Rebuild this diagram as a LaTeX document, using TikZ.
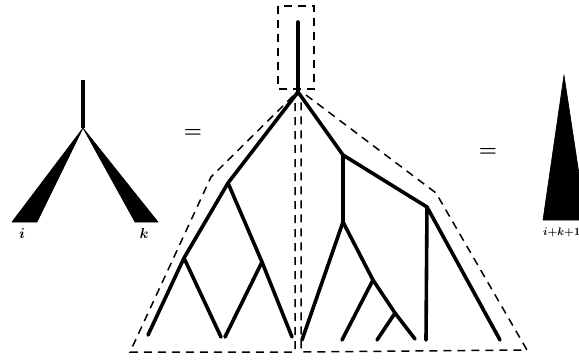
\documentclass[tikz,border=0pt]{standalone}
\begin{document}
\begin{tikzpicture}[x=1pt,y=-1pt,
  branch/.style={line width=3.6pt,line cap=round,line join=round},
  outline/.style={line width=1.5pt,dash pattern=on 8pt off 6pt},
  wedge/.style={fill=black,draw=black,line width=0.6pt,line join=round},
  lbl/.style={font=\fontsize{15}{15}\selectfont\boldmath,inner sep=0pt},
  eqsign/.style={font=\fontsize{20}{20}\selectfont\boldmath,inner sep=0pt}]
\useasboundingbox (0,0) rectangle (579,360);
\clip (0,0) rectangle (579,360);
% ---- left tree ----
\coordinate (ltop) at (83,80);
\coordinate (lroot) at (83,128);
\draw[line width=3.4pt] (ltop) -- (lroot);
\fill[wedge] (lroot) -- (12,222) -- (37,222) -- cycle;
\fill[wedge] (lroot) -- (135,222) -- (158,222) -- cycle;
\node[lbl] (li) at (22,234) {$i$};
\node[lbl] (lk) at (144,233) {$k$};
\node[eqsign] (eq1) at (193,133) {$=$};
% ---- middle tree ----
\coordinate (top) at (298,22);
\coordinate (R) at (298,92);
\coordinate (L1) at (228,183);
\coordinate (L2) at (184,258);
\coordinate (L3) at (148,335);
\coordinate (La) at (221,337);
\coordinate (L4) at (262,262);
\coordinate (Lb) at (225,337);
\coordinate (Lc) at (292,337);
\coordinate (N1) at (343,155);
\coordinate (N2) at (427,207);
\coordinate (Nleaf) at (500,340);
\coordinate (N3) at (343,222);
\coordinate (Na) at (302,340);
\coordinate (N4) at (373,280);
\coordinate (N5) at (395,313);
\coordinate (Nb) at (415,339);
\coordinate (Nc) at (342,340);
\coordinate (Nd) at (377,340);
\coordinate (Ne) at (426,340);
\draw[branch] (top) -- (R);
\draw[branch] (R) -- (L1) -- (L2) -- (L3);
\draw[branch] (L2) -- (La);
\draw[branch] (L1) -- (L4) -- (Lc);
\draw[branch] (L4) -- (Lb);
\draw[branch] (R) -- (N1) -- (N2) -- (Nleaf);
\draw[branch] (N1) -- (N3) -- (Na);
\draw[branch] (N3) -- (N4) -- (N5) -- (Nb);
\draw[branch] (N4) -- (Nc);
\draw[branch] (N5) -- (Nd);
\draw[branch] (N2) -- (Ne);
% dashed outlines
\coordinate (bx1) at (278,6);
\coordinate (bx2) at (314,89);
\draw[outline] (bx1) rectangle (bx2);
\coordinate (o1) at (293,96);
\coordinate (o2) at (211,177);
\coordinate (o3) at (130,352);
\coordinate (o4) at (295,352);
\coordinate (o5) at (295,100);
\draw[outline] (o1) -- (o2) -- (o3) -- (o4) -- (o5);
\coordinate (p1) at (306,95);
\coordinate (p2) at (436,193);
\coordinate (p3) at (527,350);
\coordinate (p4) at (301,352);
\coordinate (p5) at (301,100);
\draw[outline] (p1) -- (p2) -- (p3) -- (p4) -- (p5);
% ---- right ----
\node[eqsign] (eq2) at (488,152) {$=$};
\fill[wedge] (564,75) -- (543,220) -- (586,220) -- cycle;
\node[lbl,anchor=west,font=\fontsize{11}{11}\selectfont\boldmath] (lik) at (543,232) {$i{+}k{+}1$};
\end{tikzpicture}
\end{document}
